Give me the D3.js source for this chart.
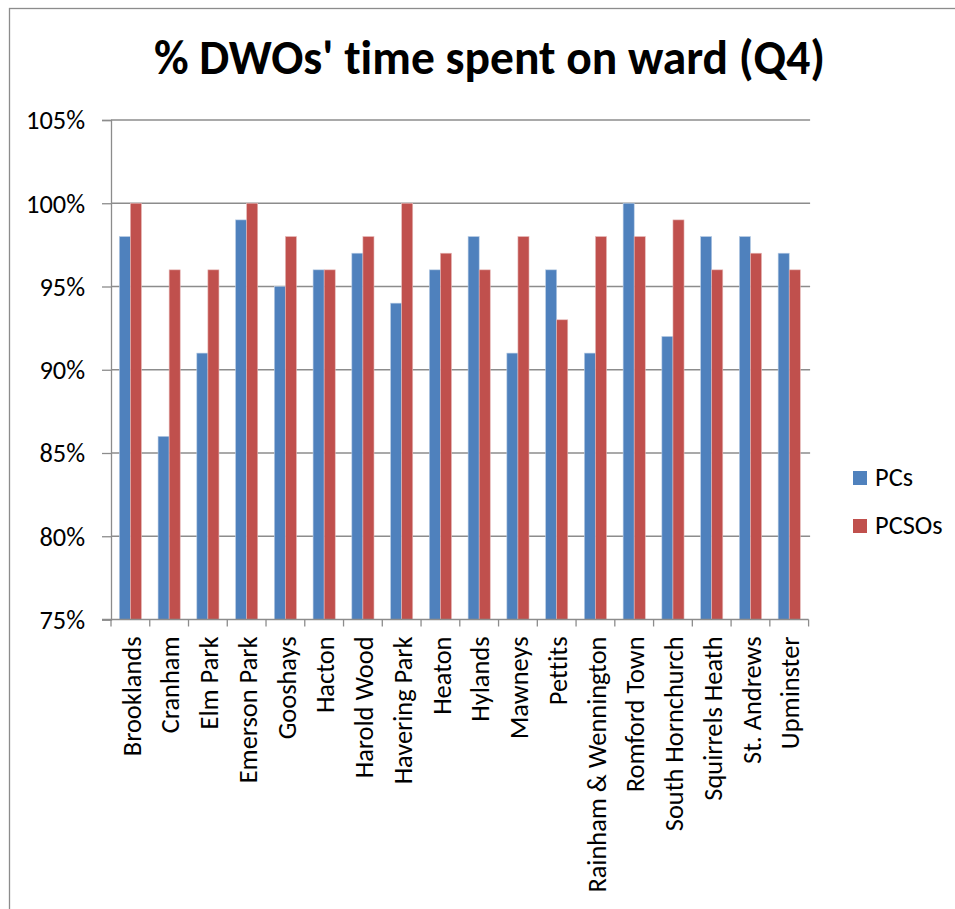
<!DOCTYPE html>
<html>
<head>
<meta charset="utf-8">
<script src="https://cdn.jsdelivr.net/npm/d3@7"></script>
<style>
  html, body { margin: 0; padding: 0; background: #fff; }
  svg { display: block; }
  text { font-family: Carlito, Calibri, Lato, "Open Sans", sans-serif; fill: #000; font-variant-ligatures: none; }
</style>
</head>
<body>
<svg id="chart" width="955" height="909"></svg>
<script>
// Ward names along the x axis
const wards = ["Brooklands", "Cranham", "Elm Park", "Emerson Park", "Gooshays", "Hacton",
  "Harold Wood", "Havering Park", "Heaton", "Hylands", "Mawneys", "Pettits",
  "Rainham & Wennington", "Romford Town", "South Hornchurch", "Squirrels Heath",
  "St. Andrews", "Upminster"];

// Share of time spent on ward, per ward
const pcs   = [0.98, 0.86, 0.91, 0.99, 0.95, 0.96, 0.97, 0.94, 0.96, 0.98, 0.91, 0.96, 0.91, 1.00, 0.92, 0.98, 0.98, 0.97];
const pcsos = [1.00, 0.96, 0.96, 1.00, 0.98, 0.96, 0.98, 1.00, 0.97, 0.96, 0.98, 0.93, 0.98, 0.98, 0.99, 0.96, 0.97, 0.96];

const seriesNames = ["PCs", "PCSOs"];
const seriesColors = ["#4F81BD", "#C0504D"];
const yTicks = [0.75, 0.80, 0.85, 0.90, 0.95, 1.00, 1.05];

const titleText = "% DWOs' time spent on ward (Q4)";

const labelSize = 26.4;
const svg = d3.select("#chart");
const plot = { left: 111, right: 808.6, top: 120, bottom: 619.5 };

// outer chart frame
svg.append("rect")
  .attr("x", 9.5).attr("y", 8.5)
  .attr("width", 1000).attr("height", 1000)
  .attr("fill", "#fff").attr("stroke", "#8c8c8c").attr("stroke-width", 1.3);

const x = d3.scaleBand().domain(wards).range([plot.left, plot.right]).paddingInner(0).paddingOuter(0);
const x1 = d3.scaleBand().domain(seriesNames).range([0, x.bandwidth()]).paddingInner(0).paddingOuter(0.75);
const y = d3.scaleLinear().domain([0.75, 1.05]).range([plot.bottom, plot.top]);

// horizontal gridlines
svg.append("g").selectAll("line").data(yTicks.slice(1)).join("line")
  .attr("x1", plot.left).attr("x2", plot.right + 1.5)
  .attr("y1", d => y(d)).attr("y2", d => y(d))
  .attr("stroke", "#8c8c8c").attr("stroke-width", 1.3);

// y axis
const yAxis = d3.axisLeft(y).tickValues(yTicks).tickSize(9).tickPadding(17)
  .tickFormat(d => Math.round(d * 100) + "%");
const gy = svg.append("g").attr("transform", `translate(${plot.left},0)`).call(yAxis);
gy.select(".domain").attr("stroke", "#8c8c8c").attr("stroke-width", 1.3);
gy.selectAll(".tick line").attr("stroke", "#8c8c8c").attr("stroke-width", 1.3);
gy.selectAll(".tick text").attr("font-size", labelSize).attr("dy", "0.34em")
  .style("font-family", "Carlito, Calibri, Lato, sans-serif").attr("fill", "#000");

// bars
const rows = wards.map((w, i) => ({ ward: w, values: [pcs[i], pcsos[i]] }));
const groups = svg.append("g").selectAll("g").data(rows).join("g")
  .attr("transform", d => `translate(${x(d.ward)},0)`);
groups.selectAll("rect").data(d => d.values.map((v, j) => ({ key: seriesNames[j], v, j })))
  .join("rect")
  .attr("x", d => x1(d.key))
  .attr("width", x1.bandwidth())
  .attr("y", d => y(d.v))
  .attr("height", d => y(0.75) - y(d.v))
  .attr("fill", d => seriesColors[d.j])
  .attr("stroke", d => d.j === 0 ? "#b9cde5" : "#e6b9b8")
  .attr("stroke-width", 0.6);

// x axis with category ticks between groups
const xAxis = svg.append("g");
xAxis.append("line")
  .attr("x1", plot.left - 9).attr("x2", plot.right)
  .attr("y1", plot.bottom).attr("y2", plot.bottom)
  .attr("stroke", "#8c8c8c").attr("stroke-width", 1.3);
const boundaries = wards.map(w => x(w)).concat([plot.right]);
xAxis.selectAll("line.tk").data(boundaries).join("line").attr("class", "tk")
  .attr("x1", d => d).attr("x2", d => d)
  .attr("y1", plot.bottom).attr("y2", plot.bottom + 7)
  .attr("stroke", "#8c8c8c").attr("stroke-width", 1.3);
xAxis.selectAll("text").data(wards).join("text")
  .attr("transform", d => `translate(${x(d) + x.bandwidth() / 2 + 1},${plot.bottom + 17}) rotate(-90)`)
  .attr("text-anchor", "end")
  .attr("dy", "0.35em")
  .attr("font-size", labelSize)
  .text(d => d);

// title
svg.append("text")
  .attr("x", 489.5).attr("y", 74)
  .attr("text-anchor", "middle")
  .attr("font-size", 47.5).attr("font-weight", "bold")
  .text(titleText);

// legend
const legend = svg.append("g").selectAll("g").data(seriesNames).join("g")
  .attr("transform", (d, i) => `translate(853,${471 + i * 48})`);
legend.append("rect").attr("width", 14).attr("height", 14)
  .attr("fill", (d, i) => seriesColors[i]);
legend.append("text").attr("x", 22).attr("y", 15).attr("font-size", labelSize).text(d => d);
</script>
</body>
</html>
